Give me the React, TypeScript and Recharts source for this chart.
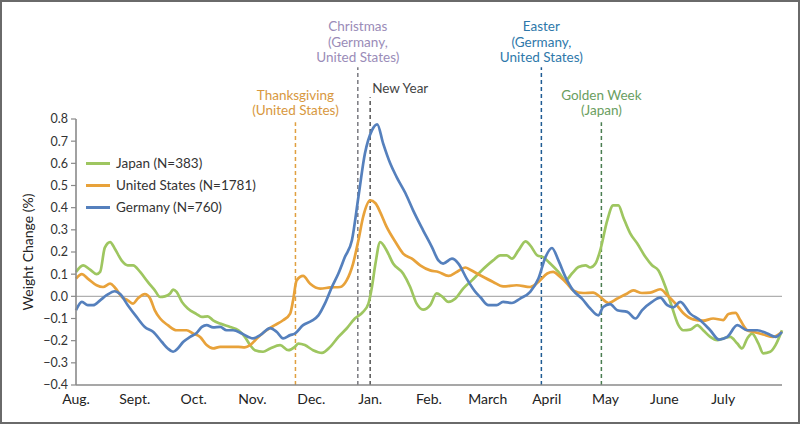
import React from "react";
import { LineChart, Line, XAxis, YAxis, ReferenceLine, Legend } from "recharts";

const months = ["Aug.", "Sept.", "Oct.", "Nov.", "Dec.", "Jan.", "Feb.", "March", "April", "May", "June", "July"];
const monthTicks = [0, 1, 2, 3, 4, 5, 6, 7, 8, 9, 10, 11];
const yTicks = [-0.4, -0.3, -0.2, -0.1, 0, 0.1, 0.2, 0.3, 0.4, 0.5, 0.6, 0.7, 0.8];

const japanX = [0, 0.12, 0.24, 0.35, 0.41, 0.49, 0.58, 0.66, 0.78, 0.88, 0.97, 1.09, 1.22, 1.34, 1.43, 1.51, 1.6, 1.65, 1.71, 1.8, 1.9, 2.05, 2.14, 2.24, 2.33, 2.45, 2.62, 2.76, 2.87, 2.96, 3.04, 3.18, 3.3, 3.47, 3.61, 3.72, 3.78, 3.89, 4.03, 4.18, 4.32, 4.46, 4.6, 4.74, 4.88, 4.97, 5.03, 5.09, 5.17, 5.28, 5.39, 5.56, 5.68, 5.79, 5.9, 6.02, 6.13, 6.22, 6.33, 6.45, 6.58, 6.73, 6.87, 7.09, 7.21, 7.32, 7.41, 7.52, 7.64, 7.72, 7.84, 7.94, 8.06, 8.2, 8.32, 8.43, 8.54, 8.66, 8.74, 8.83, 8.91, 9.03, 9.13, 9.22, 9.3, 9.42, 9.54, 9.68, 9.79, 9.9, 10.02, 10.13, 10.24, 10.32, 10.44, 10.56, 10.66, 10.78, 10.9, 11.0, 11.12, 11.24, 11.32, 11.41, 11.49, 11.6, 11.68, 11.8, 11.89, 12.0];
const japanY = [0.11, 0.14, 0.12, 0.1, 0.11, 0.22, 0.245, 0.215, 0.16, 0.14, 0.14, 0.11, 0.065, 0.027, -0.003, 0.0, 0.013, 0.03, 0.02, -0.025, -0.055, -0.08, -0.093, -0.09, -0.108, -0.123, -0.138, -0.153, -0.183, -0.22, -0.243, -0.25, -0.235, -0.22, -0.243, -0.228, -0.213, -0.22, -0.243, -0.255, -0.228, -0.183, -0.145, -0.1, -0.07, -0.033, 0.042, 0.148, 0.245, 0.207, 0.148, 0.103, 0.042, -0.033, -0.06, -0.04, 0.013, 0.0, -0.025, -0.01, 0.035, 0.072, 0.11, 0.162, 0.185, 0.185, 0.17, 0.207, 0.248, 0.23, 0.185, 0.177, 0.148, 0.11, 0.072, 0.103, 0.132, 0.14, 0.13, 0.148, 0.207, 0.343, 0.41, 0.41, 0.358, 0.284, 0.238, 0.177, 0.14, 0.117, 0.042, -0.048, -0.13, -0.153, -0.15, -0.13, -0.153, -0.183, -0.198, -0.19, -0.183, -0.213, -0.235, -0.19, -0.168, -0.213, -0.257, -0.25, -0.22, -0.153];

const usX = [0, 0.1, 0.2, 0.35, 0.46, 0.58, 0.66, 0.78, 0.88, 0.97, 1.05, 1.17, 1.26, 1.34, 1.43, 1.56, 1.71, 1.88, 1.99, 2.11, 2.22, 2.33, 2.45, 2.62, 2.76, 2.87, 2.96, 3.1, 3.24, 3.38, 3.52, 3.64, 3.69, 3.75, 3.86, 3.98, 4.15, 4.32, 4.49, 4.6, 4.71, 4.8, 4.88, 5.0, 5.09, 5.17, 5.28, 5.43, 5.56, 5.71, 5.85, 6.02, 6.16, 6.33, 6.47, 6.62, 6.7, 6.87, 7.09, 7.26, 7.49, 7.72, 7.86, 8.01, 8.11, 8.23, 8.35, 8.45, 8.62, 8.79, 8.91, 9.05, 9.2, 9.37, 9.47, 9.62, 9.76, 9.93, 10.05, 10.19, 10.32, 10.49, 10.66, 10.83, 11.0, 11.09, 11.21, 11.29, 11.41, 11.51, 11.68, 11.85, 12.0];
const usY = [0.08, 0.1, 0.08, 0.05, 0.042, 0.057, 0.04, -0.003, -0.018, -0.033, -0.01, 0.01, -0.01, -0.063, -0.1, -0.13, -0.153, -0.153, -0.168, -0.183, -0.22, -0.235, -0.228, -0.228, -0.228, -0.23, -0.22, -0.183, -0.153, -0.13, -0.108, -0.078, -0.018, 0.072, 0.092, 0.057, 0.035, 0.04, 0.042, 0.072, 0.148, 0.253, 0.358, 0.433, 0.42, 0.38, 0.313, 0.245, 0.193, 0.17, 0.14, 0.117, 0.11, 0.092, 0.11, 0.13, 0.12, 0.095, 0.065, 0.045, 0.05, 0.042, 0.065, 0.103, 0.11, 0.087, 0.057, 0.027, 0.015, 0.017, -0.003, -0.03, -0.01, 0.013, 0.027, 0.015, 0.017, 0.032, 0.005, -0.033, -0.075, -0.104, -0.11, -0.1, -0.107, -0.08, -0.075, -0.107, -0.153, -0.16, -0.172, -0.183, -0.16];

const germanyX = [0, 0.1, 0.2, 0.29, 0.41, 0.52, 0.66, 0.75, 0.88, 1.03, 1.17, 1.31, 1.46, 1.56, 1.65, 1.73, 1.82, 1.94, 2.05, 2.14, 2.22, 2.33, 2.45, 2.56, 2.67, 2.82, 2.93, 3.01, 3.13, 3.3, 3.41, 3.52, 3.64, 3.72, 3.86, 4.01, 4.12, 4.23, 4.35, 4.46, 4.57, 4.69, 4.8, 4.91, 5.03, 5.12, 5.22, 5.34, 5.45, 5.6, 5.73, 5.9, 6.05, 6.16, 6.24, 6.39, 6.5, 6.64, 6.81, 6.87, 7.01, 7.15, 7.26, 7.41, 7.55, 7.72, 7.86, 7.98, 8.09, 8.2, 8.32, 8.45, 8.6, 8.74, 8.88, 8.96, 9.08, 9.2, 9.37, 9.51, 9.62, 9.79, 9.93, 10.05, 10.15, 10.27, 10.44, 10.61, 10.78, 10.93, 11.07, 11.24, 11.41, 11.58, 11.75, 11.89, 12.0];
const germanyY = [-0.063, -0.025, -0.04, -0.04, -0.018, 0.005, 0.023, 0.01, -0.04, -0.093, -0.138, -0.16, -0.206, -0.235, -0.25, -0.235, -0.206, -0.183, -0.165, -0.138, -0.13, -0.14, -0.138, -0.153, -0.153, -0.168, -0.183, -0.19, -0.175, -0.143, -0.16, -0.19, -0.175, -0.168, -0.13, -0.11, -0.086, -0.033, 0.042, 0.103, 0.177, 0.253, 0.448, 0.643, 0.749, 0.776, 0.69, 0.6, 0.538, 0.465, 0.388, 0.298, 0.222, 0.162, 0.148, 0.17, 0.148, 0.08, 0.013, -0.003, -0.04, -0.04, -0.025, -0.03, -0.01, 0.02, 0.08, 0.177, 0.218, 0.162, 0.087, 0.027, -0.01, -0.055, -0.086, -0.048, -0.035, -0.063, -0.07, -0.1, -0.063, -0.025, -0.006, -0.04, -0.05, -0.025, -0.078, -0.108, -0.153, -0.195, -0.183, -0.13, -0.153, -0.153, -0.168, -0.183, -0.16];

const seriesNames = ["Japan (N=383)", "United States (N=1781)", "Germany (N=760)"];
const seriesColors = ["#9ec660", "#e8a23a", "#5580bd"];

const holidayLabels = [
  ["Thanksgiving", "(United States)"],
  ["Christmas", "(Germany,", "United States)"],
  ["New Year"],
  ["Easter", "(Germany,", "United States)"],
  ["Golden Week", "(Japan)"],
];
const holidayX = [3.73, 4.79, 5.0, 7.91, 8.93];
const holidayTop = [0.785, 1.033, 0.898, 1.033, 0.785];
const holidayTextColors = ["#d8983e", "#9a8cb8", "#444444", "#2e78aa", "#6a9e60"];
const holidayLineColors = ["#e0a040", "#7a7a80", "#555555", "#1f5b93", "#4a7d50"];
const holidayGap = [7, 5, 4, 5, 7];

const zip = (xs: number[], ys: number[]) => xs.map((x, i) => ({ x, y: ys[i] }));
const seriesData = [zip(japanX, japanY), zip(usX, usY), zip(germanyX, germanyY)];

const FONT = "Lato, 'Open Sans', sans-serif";

const fmt = (v: number) => {
  const s = Math.abs(v).toFixed(1);
  return v < -1e-9 ? "\u2212" + s : s;
};

const makeHolidayLabel = (i: number) => (props: any) => {
  const vb = props.viewBox || {};
  const x = vb.x ?? 0;
  const top = vb.y ?? 0;
  const lines = holidayLabels[i];
  const lh = 15.7;
  const last = top - holidayGap[i];
  const isNewYear = lines.length === 1;
  return (
    <text
      x={isNewYear ? x + 2 : x}
      textAnchor={isNewYear ? "start" : "middle"}
      fontFamily={FONT}
      fontSize={13.5}
      fill={holidayTextColors[i]}
    >
      {lines.map((t, k) => (
        <tspan key={k} x={isNewYear ? x + 2 : x} y={last - (lines.length - 1 - k) * lh}>
          {t}
        </tspan>
      ))}
    </text>
  );
};

const YLabel = (props: any) => {
  const vb = props.viewBox || {};
  const cx = (vb.x ?? 0) + 1;
  const cy = (vb.y ?? 0) + (vb.height ?? 0) / 2;
  return (
    <text
      x={cx}
      y={cy}
      transform={`rotate(-90, ${cx}, ${cy})`}
      textAnchor="middle"
      dominantBaseline="central"
      fontFamily={FONT}
      fontSize={14}
      fill="#222"
    >
      Weight Change (%)
    </text>
  );
};

const LegendContent = () => (
  <div style={{ fontFamily: FONT, fontSize: 13.5, color: "#333" }}>
    {seriesNames.map((n, i) => (
      <div key={n} style={{ display: "flex", alignItems: "center", height: 22 }}>
        <span style={{ display: "inline-block", width: 24, height: 3, background: seriesColors[i], marginRight: 6 }} />
        <span>{n}</span>
      </div>
    ))}
  </div>
);

export default function App() {
  return (
    <div style={{ position: "absolute", left: 0, top: 0, width: 800, height: 424, background: "#fff" }}>
      <LineChart width={800} height={424} margin={{ top: 119, right: 18, bottom: 0, left: 26 }}>
        <XAxis
          dataKey="x"
          type="number"
          domain={[0, 12]}
          ticks={monthTicks}
          tickFormatter={(v: number) => months[v] ?? ""}
          tickLine={false}
          tickSize={0}
          tickMargin={9}
          height={39}
          axisLine={{ stroke: "#8a8a8a", strokeWidth: 1.6 }}
          tick={{ fontFamily: FONT, fontSize: 14, fill: "#222" }}
          interval={0}
          allowDuplicatedCategory={false}
        />
        <YAxis
          type="number"
          domain={[-0.4, 0.8]}
          ticks={yTicks}
          tickFormatter={fmt}
          width={50}
          tickSize={5}
          tickMargin={3}
          interval={0}
          axisLine={{ stroke: "#8a8a8a", strokeWidth: 1.6 }}
          tickLine={{ stroke: "#8a8a8a", strokeWidth: 1.2 }}
          tick={{ fontFamily: FONT, fontSize: 12.5, fill: "#333" }}
          label={<YLabel />}
        />
        <ReferenceLine y={0} stroke="#b0b0b0" strokeWidth={1.3} />
        {holidayX.map((hx, i) => (
          <ReferenceLine
            key={i}
            segment={[{ x: hx, y: -0.4 }, { x: hx, y: holidayTop[i] }]}
            ifOverflow="visible"
            stroke={holidayLineColors[i]}
            strokeWidth={1.5}
            strokeDasharray="4 3"
            label={makeHolidayLabel(i)}
          />
        ))}
        {seriesData.map((d, i) => (
          <Line
            key={seriesNames[i]}
            data={d}
            dataKey="y"
            name={seriesNames[i]}
            type="monotone"
            stroke={seriesColors[i]}
            strokeWidth={2.7}
            dot={false}
            activeDot={false}
            isAnimationActive={false}
          />
        ))}
        <Legend
          layout="vertical"
          verticalAlign="middle"
          align="center"
          content={<LegendContent />}
          wrapperStyle={{ top: 152, left: 86, width: "auto", height: "auto" }}
        />
      </LineChart>
      <div
        style={{
          position: "absolute",
          left: 0,
          top: 0,
          width: 800,
          height: 424,
          boxSizing: "border-box",
          border: "2px solid #6a6a6a",
          pointerEvents: "none",
        }}
      />
    </div>
  );
}
